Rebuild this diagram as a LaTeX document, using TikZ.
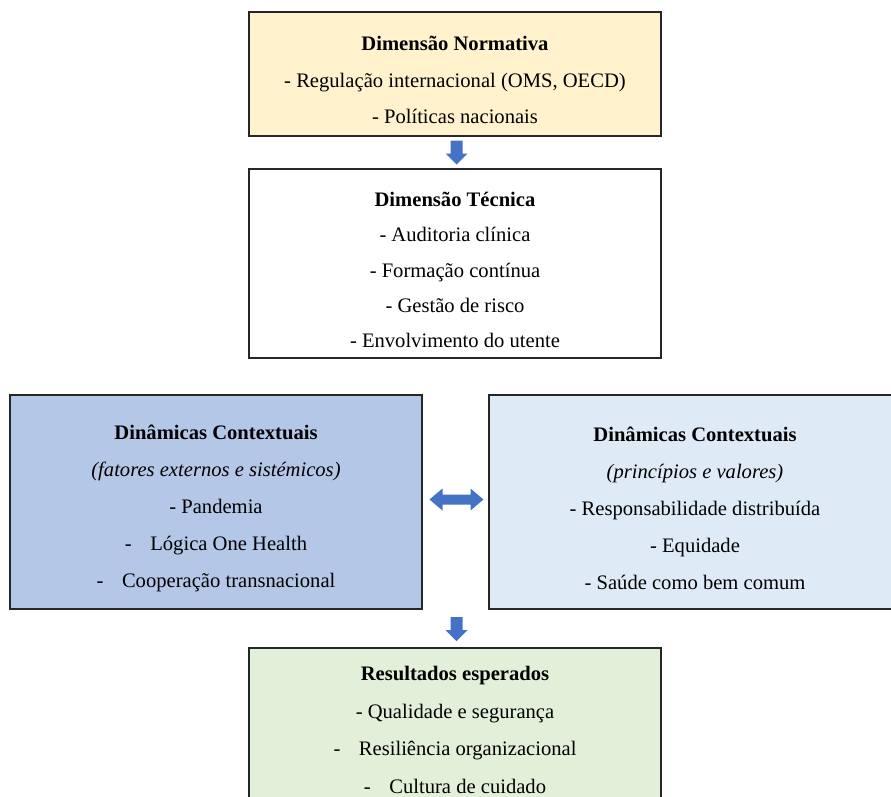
\documentclass[tikz,border=0pt]{standalone}
\usepackage{fontspec}
\setmainfont{LiberationSerif}[Extension=.ttf,UprightFont=*-Regular,BoldFont=*-Bold,ItalicFont=*-Italic,BoldItalicFont=*-BoldItalic]
\usepackage{tikz}
\usetikzlibrary{calc}
\definecolor{normfill}{HTML}{FFF2CC}
\definecolor{extfill}{HTML}{B4C7E7}
\definecolor{valfill}{HTML}{DEEBF7}
\definecolor{resfill}{HTML}{E2F0D9}
\definecolor{arrowblue}{HTML}{4472C4}
\tikzset{
  dimbox/.style={draw=black!85,line width=1.4pt,minimum width=412pt},
  boxtext/.style={inner sep=0pt,align=center,font=\fontsize{20.6}{36.8}\selectfont},
  downarrow/.pic={\fill[arrowblue] (-6,-12)--(6,-12)--(6,1)--(11,1)--(0,12)--(-11,1)--(-6,1)--cycle;},
  bothways/.pic={\fill[arrowblue] (-27,0)--(-14,-11)--(-14,-5)--(14,-5)--(14,-11)--(27,0)
    --(14,11)--(14,5)--(-14,5)--(-14,11)--cycle;}
}
\newcommand{\gap}{\hspace{0.9em}}

\begin{document}
\begin{tikzpicture}[x=1pt,y=-1pt]
    \clip (0,0) rectangle (891,796);
    \fill[white] (0,0) rectangle (891,796);

    \node[dimbox,fill=normfill,minimum height=124pt] at (455, 74) (norm) {};
    \node[dimbox,fill=white,minimum height=189pt] at (455, 263.5) (tec) {};
    \node[dimbox,fill=extfill,minimum height=214pt] at (216, 502) (ext) {};
    \node[dimbox,fill=valfill,minimum height=214pt] at (695, 502) (val) {};
    \node[dimbox,fill=resfill,minimum height=160pt] at (455, 728) (res) {};

    \node[boxtext] at ($(norm.center)+(0,6)$) (normtxt)
      {\textbf{Dimensão Normativa}\\- Regulação internacional (OMS, OECD)\\- Políticas nacionais};
    \node[boxtext,font=\fontsize{20.6}{35.3}\selectfont] at ($(tec.center)+(0,6.5)$) (tectxt)
      {\textbf{Dimensão Técnica}\\- Auditoria clínica\\- Formação contínua\\- Gestão de risco\\- Envolvimento do utente};
    \node[boxtext,font=\fontsize{20.6}{37}\selectfont] at ($(ext.center)+(0,6)$) (exttxt)
      {\textbf{Dinâmicas Contextuais}\\\textit{(fatores externos e sistémicos)}\\- Pandemia\\-\gap Lógica One Health\\-\gap Cooperação transnacional};
    \node[boxtext,font=\fontsize{20.6}{37}\selectfont] at ($(val.center)+(0,6)$) (valtxt)
      {\textbf{Dinâmicas Contextuais}\\\textit{(princípios e valores)}\\- Responsabilidade distribuída\\- Equidade\\- Saúde como bem comum};
    \node[boxtext,font=\fontsize{20.6}{37.7}\selectfont] at ($(res.center)+(0,2)$) (restxt)
      {\textbf{Resultados esperados}\\- Qualidade e segurança\\-\gap Resiliência organizacional\\-\gap Cultura de cuidado};

    % block arrows
    \coordinate (a1) at ($(norm.south)!0.5!(tec.north)+(1.5,0)$);
    \coordinate (a2) at ($(ext.east)!0.5!(val.west)+(1,-2.5)$);
    \coordinate (a3) at (456.5, 629);
    \pic at (a1) {downarrow};
    \pic at (a2) {bothways};
    \pic at (a3) {downarrow};
\end{tikzpicture}
\end{document}
